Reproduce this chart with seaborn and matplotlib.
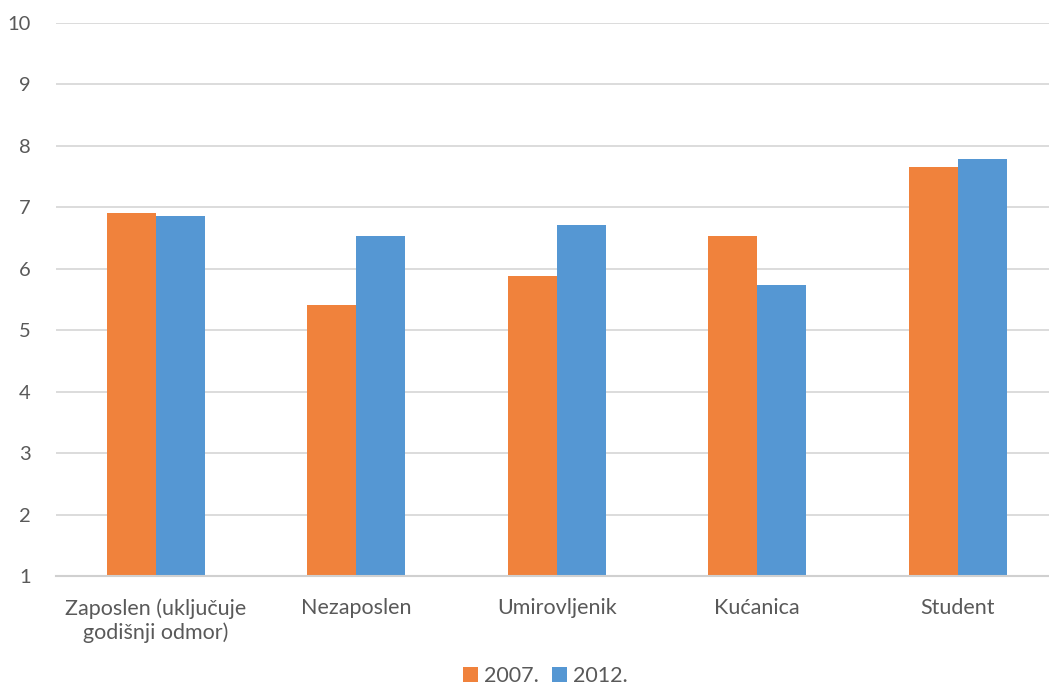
import numpy as np
import pandas as pd
import matplotlib.pyplot as plt
import seaborn as sns

# ------------------------------------------------------------
# podaci
# ------------------------------------------------------------
kategorije = ["Zaposlen (uključuje\ngodišnji odmor)", "Nezaposlen", "Umirovljenik",
              "Kućanica", "Student"]
vrijednosti_2007 = [6.91, 5.41, 5.88, 6.53, 7.66]
vrijednosti_2012 = [6.86, 6.53, 6.71, 5.74, 7.79]
godine = ["2007.", "2012."]
boje = ["#F0823C", "#5597D3"]

df = pd.DataFrame({
    "kategorija": kategorije * 2,
    "godina": [godine[0]] * len(kategorije) + [godine[1]] * len(kategorije),
    "vrijednost": vrijednosti_2007 + vrijednosti_2012,
})

sns.set_theme(style="white")
plt.rcParams["font.family"] = ["Lato", "DejaVu Sans"]

fig = plt.figure(figsize=(10.49, 6.84), dpi=100)
ax = fig.add_axes([55.5 / 1049, 1 - 576 / 684, 1002.5 / 1049, 553 / 684])

sns.barplot(data=df, x="kategorija", y="vrijednost", hue="godina",
            palette=boje, width=0.49, gap=0, saturation=1,
            linewidth=0, ax=ax)

ax.set_ylim(1, 10)
ax.set_xlim(-0.5, 4.5)
ax.set_yticks(range(1, 11))
ax.yaxis.grid(True, color="#D9D9D9", linewidth=1.3)
ax.set_axisbelow(True)
for side in ["top", "right", "left"]:
    ax.spines[side].set_visible(False)
ax.spines["bottom"].set_color("#D0D0D0")
ax.spines["bottom"].set_linewidth(1.5)
ax.set_xlabel("")
ax.set_ylabel("")
ax.tick_params(axis="both", length=0, labelsize=15.5, labelcolor="#595959")
ax.tick_params(axis="x", pad=16)
ax.tick_params(axis="y", pad=18, labelsize=14.5)

leg = ax.legend(loc="lower center", bbox_to_anchor=(0.5 - 0.0113, -0.226), ncol=2,
                frameon=False, fontsize=15.5, handlelength=0.7, handleheight=0.7,
                handletextpad=0.3, columnspacing=0.6, labelcolor="#595959",
                borderpad=0.2, bbox_transform=ax.transAxes)

fig.savefig("out.png", dpi=100)
